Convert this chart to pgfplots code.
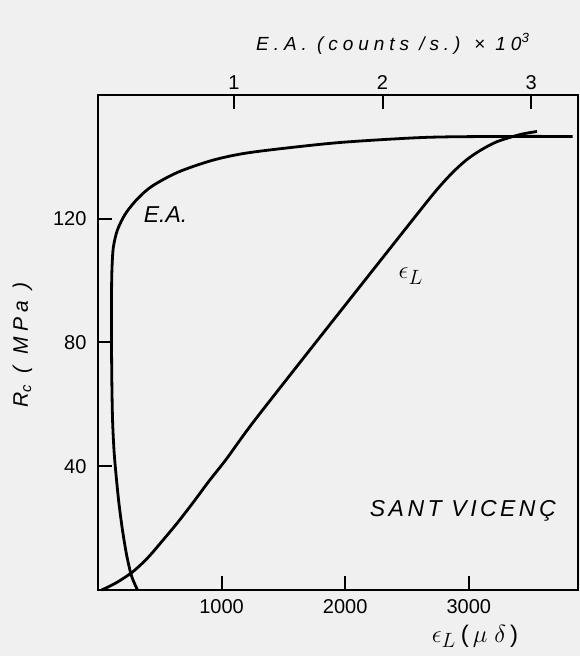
\documentclass[border=0pt]{standalone}
\usepackage{fontspec}
\setmainfont{Liberation Sans}
\newfontfamily\spacedfont[LetterSpace=15]{Liberation Sans}
\newfontfamily\widefont[LetterSpace=26]{Liberation Sans}
\usepackage{pgfplots}
\pgfplotsset{compat=1.18}

\begin{document}
\begin{tikzpicture}
\path[fill=black!6, use as bounding box] (-98bp,-66bp) rectangle (482bp,590bp);
\begin{axis}[
  at={(0bp,0bp)}, anchor=south west,
  scale only axis, width=480bp, height=495bp,
  xmin=0, xmax=3883, ymin=0, ymax=160,
  clip=false,
  axis line style={line width=2.2bp},
  xtick={1000,2000,3000}, ytick={40,80,120},
  xtick pos=left, ytick pos=left,
  tick align=inside, major tick length=14bp,
  tick style={line width=2bp,black},
  /pgf/number format/assume math mode=true,
  /pgf/number format/1000 sep={},
  scaled x ticks=false,
  ticklabel style={font=\fontsize{20bp}{24bp}\selectfont},
  xticklabel style={yshift=-6bp},
  yticklabel style={xshift=-8bp},
]
% epsilon_L curve
\addplot[line width=2.8bp, smooth, tension=0.5] coordinates {
 (30,0) (150,2.4) (282,5.9) (400,10.3) (498,14.8) (640,21.6) (768,28.2)
 (900,35.3) (1038,42.3) (1251,54.0) (1700,76.9) (2200,102.2) (2600,122.4)
 (2750,129.8) (2870,135.0) (2980,139.0) (3089,142.0) (3227,144.9)
 (3413,147.2) (3551,148.2)
};
\node[font=\fontsize{30bp}{30bp}\selectfont] at (axis cs:2530,101.5) {$\epsilon_L$};
\node[font=\itshape\fontsize{23bp}{23bp}\selectfont] at (axis cs:547,121.2) {E.A.};
\node[font=\spacedfont\itshape\fontsize{23bp}{23bp}\selectfont] at (axis cs:2951,25.5) {SANT VICENÇ};
\node at (axis cs:3050,-14.9) {\fontsize{30bp}{30bp}\selectfont$\epsilon_L$\,\fontsize{24bp}{24bp}\selectfont(\,$\mu\;\delta$\,)};
\node[rotate=90, font=\widefont\itshape\fontsize{21bp}{21bp}\selectfont] at (axis cs:-611,79.2) {R\textsubscript{c} ( MPa )};
\node[font=\widefont\itshape\fontsize{19bp}{19bp}\selectfont] at (axis cs:2385,176.6) {E.A. (counts /s.) × 10\textsuperscript{3}};
\end{axis}
\begin{axis}[
  at={(0bp,0bp)}, anchor=south west,
  scale only axis, width=480bp, height=495bp,
  xmin=0.084, xmax=3.316, ymin=0, ymax=160,
  axis line style={line width=2.2bp},
  xtick={1,2,3}, ytick=\empty,
  xtick pos=right, tick align=inside, major tick length=14bp,
  tick style={line width=2bp,black},
  /pgf/number format/assume math mode=true,
  ticklabel style={font=\fontsize{20bp}{24bp}\selectfont},
  xticklabel style={yshift=2bp},
]
% E.A. curve
\addplot[line width=2.8bp, smooth, tension=0.5] coordinates {
 (0.350,0) (0.310,4.5) (0.278,11) (0.250,19) (0.225,28) (0.206,37)
 (0.192,45) (0.182,55) (0.177,68) (0.175,80) (0.175,90) (0.176,100)
 (0.180,106) (0.188,111) (0.215,116.4) (0.270,121.7) (0.351,126.5)
 (0.45,130.6) (0.625,135.1) (0.855,138.9) (1.079,141.2) (1.416,143.2)
 (1.754,144.8) (2.29,146.3) (2.8,146.6) (3.28,146.6)
};
\end{axis}
\end{tikzpicture}
\end{document}
